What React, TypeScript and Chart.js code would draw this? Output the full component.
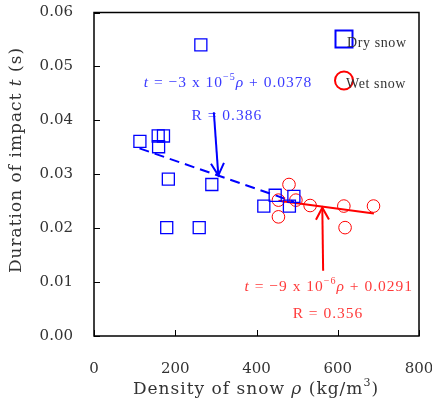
import React, { useEffect, useRef } from 'react';
import { Chart, registerables } from 'chart.js';
Chart.register(...registerables);

const dryDensity = [113, 158, 171, 159, 183, 290, 418, 446, 481, 492, 179, 259, 263];
const dryDuration = [0.0361, 0.0371, 0.0371, 0.0351, 0.0291, 0.0281, 0.0241, 0.0261, 0.0241, 0.0259, 0.0201, 0.0201, 0.054];
const wetDensity = [480, 454, 497, 532, 454, 615, 688, 618];
const wetDuration = [0.0281, 0.0252, 0.0252, 0.0242, 0.0221, 0.0241, 0.0241, 0.0201];
const dryFitDensity = [112, 492];
const dryFitDuration = [0.0348, 0.0249];
const wetFitDensity = [454, 689];
const wetFitDuration = [0.0251, 0.0227];
const xTicks = [0, 200, 400, 600, 800];
const xTickLabels = ['0', '200', '400', '600', '800'];
const yTicks = [0, 0.01, 0.02, 0.03, 0.04, 0.05, 0.06];
const yTickLabels = ['0.00', '0.01', '0.02', '0.03', '0.04', '0.05', '0.06'];

const BLUE = '#0000ff';
const RED = '#ff0000';
const FONT = "'DejaVu Serif', 'Liberation Serif', serif";
const FONT2 = "'Liberation Serif', 'DejaVu Serif', serif";

type Seg = { text: string; italic?: boolean; sup?: boolean };

function richWidth(ctx: CanvasRenderingContext2D, segs: Seg[], size: number, fam: string) {
  let w = 0;
  for (const s of segs) {
    const fs = s.sup ? size * 0.65 : size;
    ctx.font = `${s.italic ? 'italic ' : ''}${fs}px ${fam}`;
    w += ctx.measureText(s.text).width;
  }
  return w;
}

function drawRich(ctx: CanvasRenderingContext2D, segs: Seg[], cx: number, cy: number, size: number, color: string, fam: string = FONT) {
  ctx.save();
  ctx.fillStyle = color;
  ctx.textBaseline = 'middle';
  ctx.textAlign = 'left';
  const w = richWidth(ctx, segs, size, fam);
  let x = cx - w / 2;
  for (const s of segs) {
    const fs = s.sup ? size * 0.65 : size;
    ctx.font = `${s.italic ? 'italic ' : ''}${fs}px ${fam}`;
    ctx.fillText(s.text, x, s.sup ? cy - size * 0.38 : cy);
    x += ctx.measureText(s.text).width;
  }
  ctx.restore();
}

function arrow(ctx: CanvasRenderingContext2D, x1: number, y1: number, x2: number, y2: number, color: string) {
  ctx.save();
  ctx.strokeStyle = color;
  ctx.lineWidth = 2;
  ctx.beginPath();
  ctx.moveTo(x1, y1);
  ctx.lineTo(x2, y2);
  ctx.stroke();
  const ang = Math.atan2(y2 - y1, x2 - x1);
  const L = 12, H = 6.5;
  const bx = x2 - L * Math.cos(ang), by = y2 - L * Math.sin(ang);
  const px = -Math.sin(ang) * H, py = Math.cos(ang) * H;
  ctx.beginPath();
  ctx.moveTo(bx + px, by + py);
  ctx.lineTo(x2, y2);
  ctx.lineTo(bx - px, by - py);
  ctx.stroke();
  ctx.restore();
}

const decorPlugin = {
  id: 'decor',
  afterDraw(chart: any) {
    const ctx: CanvasRenderingContext2D = chart.ctx;
    const { left, right, top, bottom } = chart.chartArea;
    const xs = chart.scales.x;
    const ys = chart.scales.y;
    ctx.save();
    // frame
    ctx.strokeStyle = '#000';
    ctx.lineWidth = 1.5;
    ctx.strokeRect(left, top, right - left, bottom - top);
    // ticks
    ctx.lineWidth = 1;
    ctx.beginPath();
    for (const v of xTicks) {
      const px = Math.round(xs.getPixelForValue(v)) + 0.5;
      ctx.moveTo(px, bottom);
      ctx.lineTo(px, bottom - 6);
    }
    for (const v of yTicks) {
      const py = Math.round(ys.getPixelForValue(v)) + 0.5;
      ctx.moveTo(left, py);
      ctx.lineTo(left + 6, py);
    }
    ctx.stroke();
    // tick labels
    ctx.fillStyle = '#333';
    ctx.font = `15px ${FONT}`;
    ctx.textBaseline = 'middle';
    ctx.textAlign = 'center';
    xTicks.forEach((v, i) => ctx.fillText(xTickLabels[i], xs.getPixelForValue(v), 369));
    ctx.textAlign = 'right';
    yTicks.forEach((v, i) => ctx.fillText(yTickLabels[i], 73, ys.getPixelForValue(v)));
    // axis titles
    (ctx as any).letterSpacing = '1px';
    drawRich(ctx, [
      { text: 'Density of snow ' },
      { text: 'ρ', italic: true },
      { text: ' (kg/m' },
      { text: '3', sup: true },
      { text: ')' },
    ], 256, 390, 17, '#333');
    ctx.save();
    ctx.translate(17, 160);
    ctx.rotate(-Math.PI / 2);
    drawRich(ctx, [
      { text: 'Duration of impact ' },
      { text: 't', italic: true },
      { text: ' (s)' },
    ], 0, 0, 17, '#333');
    ctx.restore();
    // annotations
    drawRich(ctx, [
      { text: 't', italic: true },
      { text: ' = −3 x 10' },
      { text: '−5', sup: true },
      { text: 'ρ', italic: true },
      { text: ' + 0.0378' },
    ], xs.getPixelForValue(330), ys.getPixelForValue(0.0469), 15.5, '#3a3aff', FONT2);
    drawRich(ctx, [{ text: 'R = 0.386' }], xs.getPixelForValue(327), ys.getPixelForValue(0.0409), 15.5, '#3a3aff', FONT2);
    drawRich(ctx, [
      { text: 't', italic: true },
      { text: ' = −9 x 10' },
      { text: '−6', sup: true },
      { text: 'ρ', italic: true },
      { text: ' + 0.0291' },
    ], xs.getPixelForValue(578), ys.getPixelForValue(0.0091), 15.5, '#ff3a3a', FONT2);
    drawRich(ctx, [{ text: 'R = 0.356' }], xs.getPixelForValue(576), ys.getPixelForValue(0.0041), 15.5, '#ff3a3a', FONT2);
    (ctx as any).letterSpacing = '0px';
    // arrows
    arrow(ctx, xs.getPixelForValue(295), ys.getPixelForValue(0.0415), xs.getPixelForValue(306), ys.getPixelForValue(0.0298), BLUE);
    arrow(ctx, xs.getPixelForValue(564), ys.getPixelForValue(0.0121), xs.getPixelForValue(562), ys.getPixelForValue(0.0238), RED);
    // legend
    ctx.lineWidth = 2;
    ctx.strokeStyle = BLUE;
    ctx.strokeRect(right - 83.5, top + 18, 17, 17);
    ctx.strokeStyle = RED;
    ctx.beginPath();
    ctx.arc(right - 75, top + 68, 9, 0, Math.PI * 2);
    ctx.stroke();
    ctx.fillStyle = '#333';
    (ctx as any).letterSpacing = '0.6px';
    ctx.font = `14px ${FONT2}`;
    ctx.textAlign = 'left';
    ctx.textBaseline = 'middle';
    ctx.fillText('Dry snow', right - 72, top + 31);
    ctx.fillText('Wet snow', right - 73, top + 72);
    (ctx as any).letterSpacing = '0px';
    ctx.restore();
  },
};

export default function App() {
  const ref = useRef<HTMLCanvasElement>(null);
  useEffect(() => {
    document.body.style.margin = '0';
    const canvas = ref.current!;
    const chart = new Chart(canvas, {
      type: 'scatter',
      data: {
        datasets: [
          {
            label: 'Dry snow',
            data: dryDensity.map((x, i) => ({ x, y: dryDuration[i] })),
            pointStyle: 'rect',
            pointRadius: 8.5,
            pointBorderColor: BLUE,
            pointBackgroundColor: 'transparent',
            pointBorderWidth: 1.3,
            showLine: false,
          },
          {
            label: 'Wet snow',
            data: wetDensity.map((x, i) => ({ x, y: wetDuration[i] })),
            pointStyle: 'circle',
            pointRadius: 6.3,
            pointBorderColor: RED,
            pointBackgroundColor: 'transparent',
            pointBorderWidth: 1,
            showLine: false,
          },
          {
            label: 'Dry fit',
            data: dryFitDensity.map((x, i) => ({ x, y: dryFitDuration[i] })),
            showLine: true,
            borderColor: BLUE,
            borderWidth: 2,
            borderDash: [10, 6],
            pointRadius: 0,
          },
          {
            label: 'Wet fit',
            data: wetFitDensity.map((x, i) => ({ x, y: wetFitDuration[i] })),
            showLine: true,
            borderColor: RED,
            borderWidth: 2,
            pointRadius: 0,
          },
        ],
      } as any,
      options: {
        animation: false,
        responsive: false,
        devicePixelRatio: 1,
        layout: { padding: { left: 94, right: 13, top: 12.5, bottom: 68 } },
        plugins: { legend: { display: false }, tooltip: { enabled: false } },
        scales: {
          x: { type: 'linear', min: 0, max: 800, display: false },
          y: { type: 'linear', min: 0, max: 0.06, display: false },
        },
      },
      plugins: [decorPlugin],
    });
    return () => chart.destroy();
  }, []);
  return <canvas ref={ref} width={432} height={404} style={{ display: 'block' }} />;
}
